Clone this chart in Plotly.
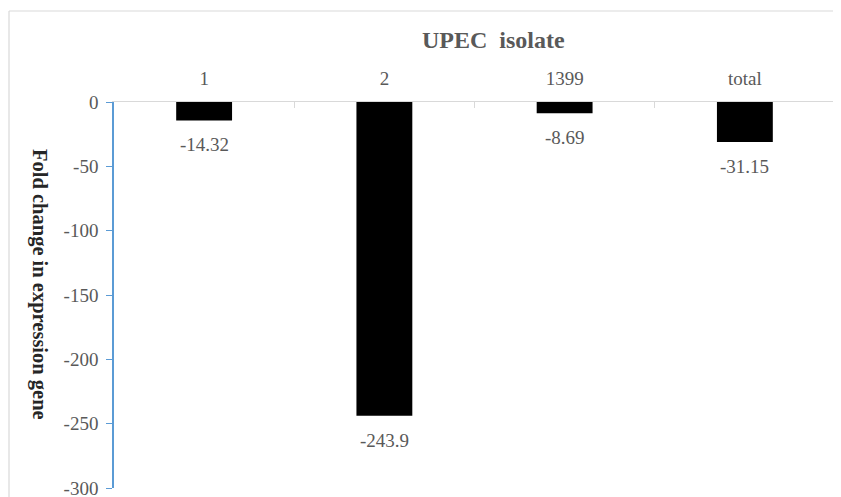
import plotly.graph_objects as go

categories = ["1", "2", "1399", "total"]
values = [-14.32, -243.9, -8.69, -31.15]
value_labels = ["-14.32", "-243.9", "-8.69", "-31.15"]
y_ticks = [0, -50, -100, -150, -200, -250, -300]
y_tick_text = ["0", "-50", "-100", "-150", "-200", "-250", "-300"]

OFF = 8  # page body margin
W, H = 841 - OFF, 497 - OFF
# plot area in window pixels: x 114..835, y 102..488
L, T = 114 - OFF, 102 - OFF
R, B = W - (835 - OFF), H - (488 - OFF)
pw, ph = W - L - R, H - T - B

def px(xw):
    return (xw - 114) / pw

def py(yw):
    return 1 - (yw - 102) / ph

SERIF = "Liberation Serif, Times New Roman, serif"
GRAY = "#595959"

fig = go.Figure()
fig.add_trace(go.Bar(x=categories, y=values, marker=dict(color="black", line=dict(width=0)),
                     hoverinfo="skip"))

for i, (v, t) in enumerate(zip(values, value_labels)):
    fig.add_annotation(x=i, y=v, text=t, showarrow=False, yanchor="top", yshift=-12,
                       font=dict(family=SERIF, size=19, color=GRAY))

fig.add_annotation(xref="paper", yref="paper", x=px(493), y=py(40),
                   text="<b>UPEC\u00a0 isolate</b>", showarrow=False, xanchor="center", yanchor="middle",
                   font=dict(family=SERIF, size=24, color=GRAY))
fig.add_annotation(xref="paper", yref="paper", x=px(40), y=py(284),
                   text="<b>Fold change in expression gene</b>", showarrow=False, textangle=90,
                   xanchor="center", yanchor="middle",
                   font=dict(family=SERIF, size=20.5, color="#262626"))

# outer chart border (top and left)
fig.add_shape(type="line", xref="paper", yref="paper", x0=px(9), x1=1.05,
              y0=py(11), y1=py(11), line=dict(color="#d9d9d9", width=1.2))
fig.add_shape(type="line", xref="paper", yref="paper", x0=px(9), x1=px(9),
              y0=py(11), y1=-0.1, line=dict(color="#d9d9d9", width=1.2))

fig.update_layout(
    width=W, height=H, margin=dict(l=L, r=R, t=T, b=B, autoexpand=False),
    paper_bgcolor="white", plot_bgcolor="white", showlegend=False,
    bargap=0.69,
    xaxis=dict(side="top", type="category", range=[-0.5, 3.5], tickson="boundaries",
               ticks="inside", ticklen=6, automargin=False,
               tickcolor="#d9d9d9", showline=True, linecolor="#d9d9d9", linewidth=1.2,
               showgrid=False, zeroline=False, ticklabelstandoff=8,
               tickfont=dict(family=SERIF, size=19, color=GRAY)),
    yaxis=dict(range=[-300, 0], tickvals=y_ticks, ticktext=y_tick_text, ticks="outside", ticklen=6,
               tickcolor="#5B9BD5", showline=True, linecolor="#5B9BD5", linewidth=1.5,
               showgrid=False, zeroline=False, ticklabelstandoff=4, ticklabeloverflow="allow",
               automargin=False,
               tickfont=dict(family=SERIF, size=19, color=GRAY)),
)

fig.write_html("out.html")
